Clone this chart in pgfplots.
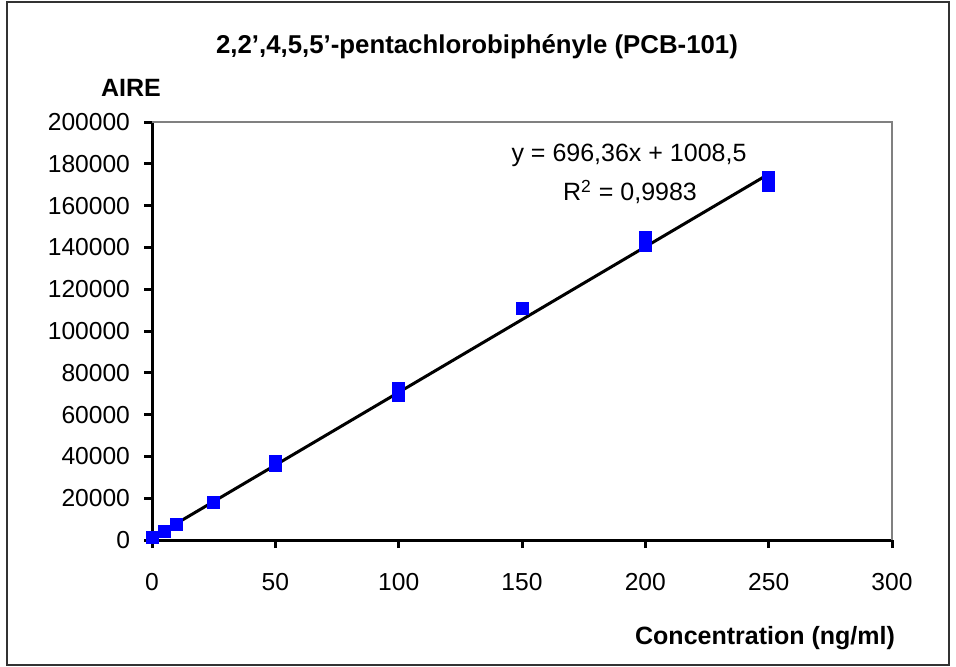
\documentclass[border=0pt]{standalone}
\usepackage{pgfplots}
\pgfplotsset{compat=1.18}
\usepackage{fontspec}
\setmainfont{Liberation Sans}
\definecolor{ptblue}{RGB}{0,0,255}
\begin{document}
\begin{tikzpicture}[x=1pt,y=1pt]
\useasboundingbox (0,0) rectangle (478,333);
\draw[black!80, line width=1pt] (3.25,0.5) rectangle (474.5,332);
\node[font=\fontsize{12.9}{15}\selectfont\bfseries] at (238.5,309.5) {2,2',4,5,5'-pentachlorobiphényle (PCB-101)};
\node[font=\fontsize{12.5}{15}\selectfont\bfseries] at (65.5,289) {AIRE};
\node[font=\fontsize{12.5}{15}\selectfont\bfseries] at (382.5,14) {Concentration (ng/ml)};
\begin{axis}[
  at={(76pt,63pt)}, anchor=south west,
  scale only axis, width=370pt, height=209pt,
  xmin=0, xmax=300, ymin=0, ymax=200000,
  xtick={0,50,100,150,200,250,300},
  xticklabels={0,50,100,150,200,250,300},
  ytick={0,20000,40000,60000,80000,100000,120000,140000,160000,180000,200000},
  yticklabels={0,20000,40000,60000,80000,100000,120000,140000,160000,180000,200000},
  scaled y ticks=false,
  axis x line*=bottom, axis y line*=left,
  axis line style={-, line width=1.5pt, black},
  tick align=outside,
  major tick length=4pt,
  tick style={line width=1.5pt, black},
  ticklabel style={font=\fontsize{12.3}{14}\selectfont},
  xticklabel style={yshift=-9pt},
  yticklabel style={xshift=-3.5pt},
  clip=false,
]
\draw[black!50, line width=1pt] (rel axis cs:0,1) -- (rel axis cs:1,1) -- (rel axis cs:1,0);
\addplot[only marks, mark=square*, mark size=3pt, color=ptblue] coordinates {
 (0,1290) (5,3970) (10,7650) (25,17850) (50,37500) (50,35900)
 (100,72500) (100,69200) (150,110900) (200,144600) (200,140800)
 (250,173400) (250,169500)
};
\addplot[black, line width=1.5pt] coordinates {(0,1008.5) (250,175098.5)};
\end{axis}
\node[font=\fontsize{12.5}{15}\selectfont] at (314.5,255.5) {y = 696,36x + 1008,5};
\node[font=\fontsize{12.5}{15}\selectfont] at (315,237) {R\textsuperscript{2} = 0,9983};
\end{tikzpicture}
\end{document}
